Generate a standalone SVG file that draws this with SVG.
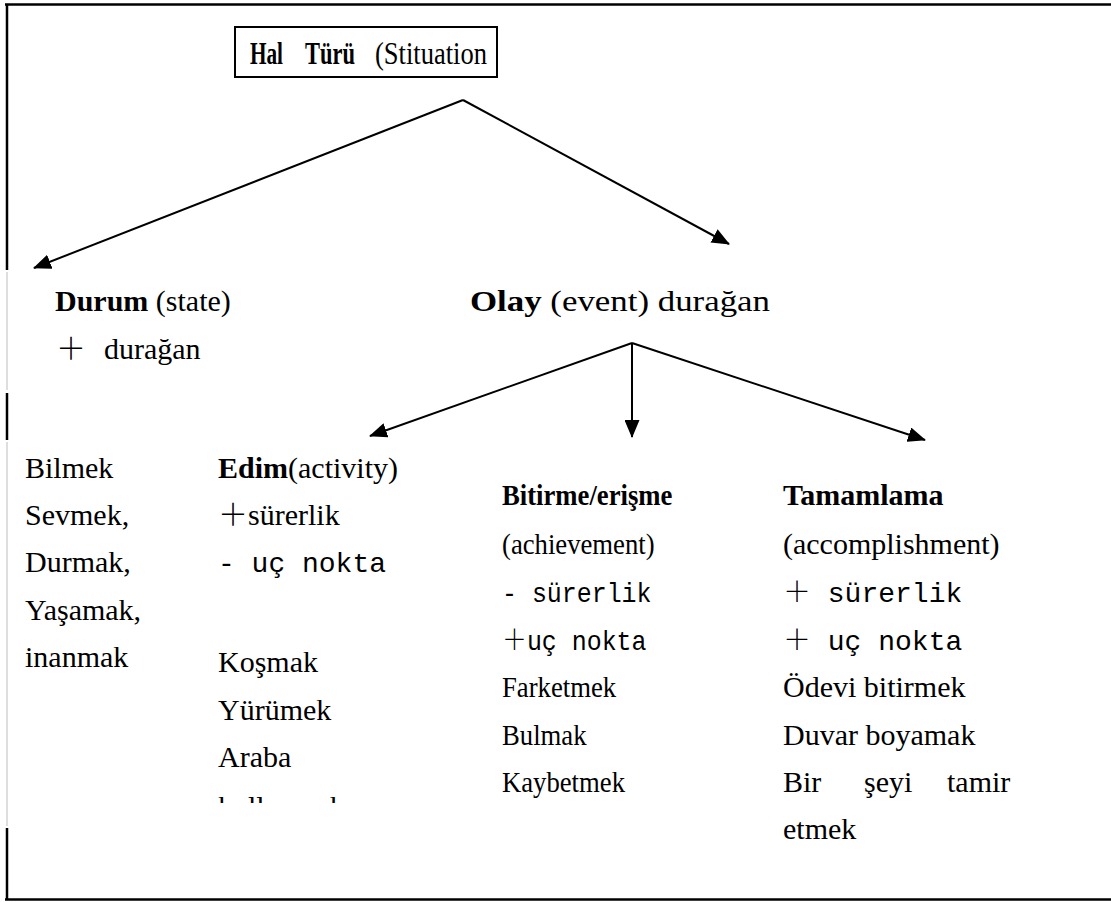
<svg xmlns="http://www.w3.org/2000/svg" width="1111" height="902" viewBox="0 0 1111 902">
<style>
.t{font-family:"Liberation Serif","Times New Roman",serif;font-size:30px;fill:#000}
.b{font-weight:bold}
.m{font-family:"Liberation Mono","Noto Sans CJK SC",monospace;font-size:28px;fill:#000}
.cj{font-family:"Noto Sans CJK SC",sans-serif;font-weight:300}
.ln{stroke:#000;stroke-width:2;fill:none}
.fr{stroke:#000;stroke-width:2.5;fill:none}
.gr{stroke:#c8c8c8;stroke-width:1.2;fill:none}
</style>
<defs>
<marker id="ah" markerWidth="19" markerHeight="15" refX="17" refY="7.5" orient="auto" markerUnits="userSpaceOnUse">
<path d="M0,0 L18,7.5 L0,15 Z" fill="#000"/>
</marker>
<clipPath id="clipK"><rect x="200" y="780" width="300" height="23"/></clipPath>
</defs>
<rect width="1111" height="902" fill="#fff"/>
<g id="frame">
<line class="fr" x1="5" y1="4.5" x2="1111" y2="4.5" stroke="#333"/>
<line class="fr" x1="7" y1="4" x2="7" y2="270"/>
<line class="gr" x1="7" y1="272" x2="7" y2="390"/>
<line class="fr" x1="7" y1="393" x2="7" y2="440"/>
<line class="gr" x1="7" y1="442" x2="7" y2="826"/>
<line class="fr" x1="7" y1="828" x2="7" y2="900"/>
<line class="fr" x1="5" y1="899.5" x2="1111" y2="899.5"/>
</g>
<g id="connectors">
<line class="ln" x1="463" y1="100" x2="34" y2="268" marker-end="url(#ah)"/>
<line class="ln" x1="463" y1="100" x2="729" y2="244" marker-end="url(#ah)"/>
<line class="ln" x1="632" y1="343" x2="370" y2="436" marker-end="url(#ah)"/>
<line class="ln" x1="632" y1="343" x2="632" y2="437" marker-end="url(#ah)"/>
<line class="ln" x1="632" y1="343" x2="925" y2="440" marker-end="url(#ah)"/>
</g>
<g id="root">
<rect x="235" y="27" width="262" height="50" fill="#fff" stroke="#000" stroke-width="2"/>
<text class="t b" x="250" y="64" style="font-size:31px" textLength="33" lengthAdjust="spacingAndGlyphs">Hal</text>
<text class="t b" x="305" y="64" style="font-size:31px" textLength="50" lengthAdjust="spacingAndGlyphs">Türü</text>
<text class="t" x="375" y="64" style="font-size:31px" textLength="112" lengthAdjust="spacingAndGlyphs">(Stituation</text>
</g>
<g id="durum">
<text class="t" x="55" y="311"><tspan class="b">Durum</tspan> (state)</text>
<text class="t" x="56" y="359"><tspan class="cj">＋</tspan><tspan x="104">durağan</tspan></text>
</g>
<g id="olay">
<text class="t" x="470" y="311" textLength="300" lengthAdjust="spacingAndGlyphs"><tspan class="b">Olay</tspan> (event) durağan</text>
</g>
<g id="durum-examples">
<text class="t" x="25" y="478">Bilmek</text>
<text class="t" x="25" y="525">Sevmek,</text>
<text class="t" x="25" y="572">Durmak,</text>
<text class="t" x="25" y="620">Yaşamak,</text>
<text class="t" x="25" y="667">inanmak</text>
</g>
<g id="edim">
<text class="t" x="218" y="478"><tspan class="b">Edim</tspan>(activity)</text>
<text class="t" x="218" y="525"><tspan class="cj">＋</tspan>sürerlik</text>
<text class="m" x="218" y="572">- uç nokta</text>
<text class="t" x="218" y="672">Koşmak</text>
<text class="t" x="218" y="720">Yürümek</text>
<text class="t" x="218" y="767">Araba</text>
<text class="t" x="218" y="817" clip-path="url(#clipK)">kullanmak</text>
</g>
<g id="bitirme" transform="translate(502 0) scale(0.89 1) translate(-502 0)">
<text class="t b" x="502" y="505">Bitirme/erişme</text>
<text class="t" x="502" y="554">(achievement)</text>
<text class="m" x="502" y="602">- sürerlik</text>
<text class="m" x="502" y="650"><tspan class="cj">＋</tspan>uç nokta</text>
<text class="t" x="502" y="697">Farketmek</text>
<text class="t" x="502" y="745">Bulmak</text>
<text class="t" x="502" y="792">Kaybetmek</text>
</g>
<g id="tamamlama">
<text class="t b" x="783" y="505">Tamamlama</text>
<text class="t" x="783" y="554">(accomplishment)</text>
<text class="m" x="783" y="602"><tspan class="cj">＋</tspan> sürerlik</text>
<text class="m" x="783" y="650"><tspan class="cj">＋</tspan> uç nokta</text>
<text class="t" x="783" y="697">Ödevi bitirmek</text>
<text class="t" x="783" y="745">Duvar boyamak</text>
<text class="t" x="783" y="792"><tspan x="783">Bir</tspan><tspan x="864">şeyi</tspan><tspan x="947">tamir</tspan></text>
<text class="t" x="783" y="839">etmek</text>
</g>
</svg>
